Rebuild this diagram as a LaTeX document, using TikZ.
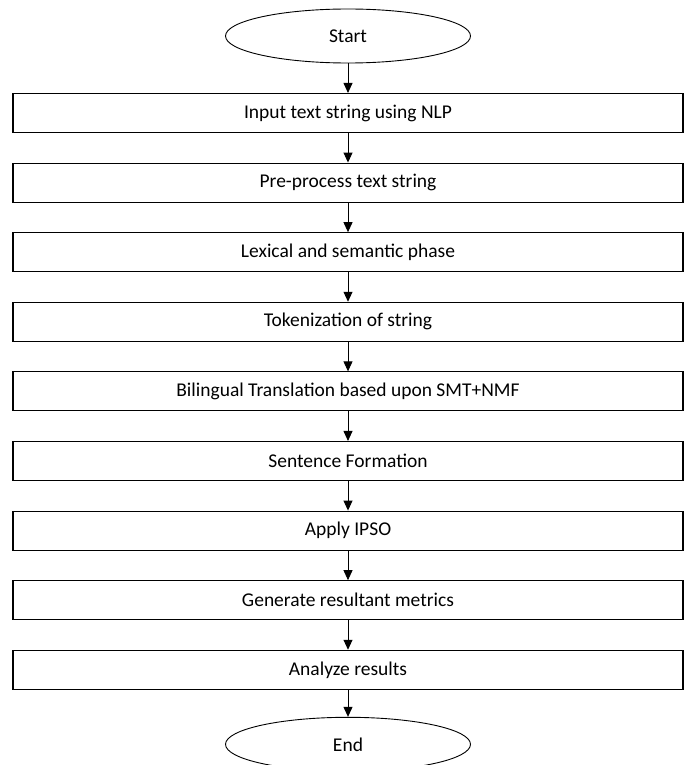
\documentclass[tikz,border=0pt]{standalone}
\usepackage{fontspec}
\setmainfont{Carlito}
\usetikzlibrary{shapes.geometric}
\usetikzlibrary{arrows.meta}
\usetikzlibrary{positioning}

\begin{document}
\begin{tikzpicture}[x=1pt,y=-1pt,
    font=\fontsize{19.5}{22}\selectfont,
    node distance=29.5pt,
    terminal/.style={draw,ellipse,line width=0.9pt,minimum width=245pt,minimum height=54pt,inner sep=0pt},
    stepbox/.style={draw,rectangle,line width=1.1pt,minimum width=670pt,minimum height=39pt,inner sep=0pt},
    flow/.style={-{Triangle[length=10pt,width=9pt]},line width=0.9pt}]
    \useasboundingbox (0,0) rectangle (688,765);
    \node[terminal] (start) at (348,36) {Start};
    \node[stepbox, below=of start] (input) {Input text string using NLP};
    \node[stepbox, below=of input] (preproc) {Pre-process text string};
    \node[stepbox, below=of preproc] (lexical) {Lexical and semantic phase};
    \node[stepbox, below=of lexical] (token) {Tokenization of string};
    \node[stepbox, below=of token] (translate) {Bilingual Translation based upon SMT+NMF};
    \node[stepbox, below=of translate] (sentence) {Sentence Formation};
    \node[stepbox, below=of sentence] (ipso) {Apply IPSO};
    \node[stepbox, below=of ipso] (metrics) {Generate resultant metrics};
    \node[stepbox, below=of metrics] (analyze) {Analyze results};
    \node[terminal, below=27pt of analyze] (end) {End};
    % arrows
    \foreach \a/\b in {start/input,input/preproc,preproc/lexical,lexical/token,token/translate,
        translate/sentence,sentence/ipso,ipso/metrics,metrics/analyze,analyze/end}
        \draw[flow] (\a) -- (\b);
\end{tikzpicture}
\end{document}
